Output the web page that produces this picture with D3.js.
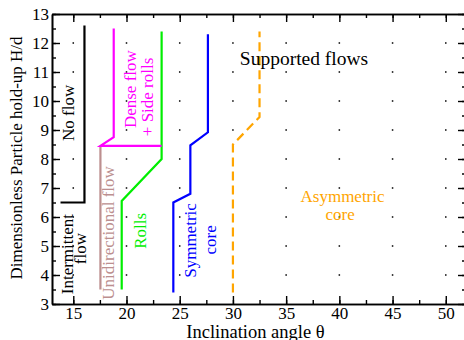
<!DOCTYPE html>
<html><head><meta charset="utf-8">
<script src="https://cdn.jsdelivr.net/npm/d3@7"></script>
<style>
html,body{margin:0;padding:0;background:#fff;overflow:hidden;}
text{font-family:"Liberation Serif","Times New Roman",serif;}
</style></head>
<body><svg id="c" width="464" height="340"></svg>
<script>
// Regime boundary lines: [inclination angle, H/d]
const noFlowLine = [[13.8,6.5],[16.05,6.5],[16.05,12.6]];
const denseLine = [[23.3,8.45],[17.55,8.45],[18.8,8.75],[18.8,12.5]];
const unidirLine = [[17.55,3.5],[17.55,8.45]];
const rollsLine = [[19.55,3.5],[19.55,6.55],[23.3,8.0],[23.3,12.4]];
const symLine = [[24.4,3.4],[24.4,6.5],[26.0,6.8],[26.0,8.47],[27.65,8.92],[27.65,12.3]];
const asymLine = [[30.0,3.4],[30.0,8.5],[32.5,9.45],[32.5,12.4]];

const xTicks = [15,20,25,30,35,40,45,50];
const yTicks = [3,4,5,6,7,8,9,10,11,12,13];
const gridX = [15,20,25,30,35,40,45,50];
const gridY = [4,5,6,7,8,9,10,11,12];

// Annotations: [text, angle, H/d]
const rotLabels = [
  ["No flow",14.5,9.59,"#000"],
  ["Dense flow",20.33,10.41,"#ff00ff"],
  ["+ Side rolls",21.93,10.14,"#ff00ff"],
  ["Intermittent",14.41,4.72,"#000"],
  ["flow",15.63,4.91,"#000"],
  ["Unidirectional flow",18.26,5.45,"#bc8f8f"],
  ["Rolls",21.27,5.52,"#00ee00"],
  ["Symmetric",25.97,5.19,"#0000ff"],
  ["core",27.85,5.21,"#0000ff"]
];
const flatLabels = [
  ["Supported flows",36.68,11.24,"#000",19.5],
  ["Asymmetric",40.3,6.53,"#ffa500",17],
  ["core",40.07,5.90,"#ffa500",17]
];

const svg = d3.select("#c");
const L=52,T=14,R=466,B=304;
const x = d3.scaleLinear().domain([13,51.9]).range([L,R]);
const y = d3.scaleLinear().domain([3,13]).range([B,T]);

// grid dots
const g = svg.append("g");
gridX.forEach(a=>gridY.forEach(b=>{
  g.append("rect").attr("x",x(a)-0.75).attr("y",y(b)-0.75).attr("width",1.5).attr("height",1.5).attr("fill","#000");
}));

const line = d3.line().x(d=>x(d[0])).y(d=>y(d[1]));
function draw(data,color,dash){
  const p = svg.append("path").datum(data).attr("d",line).attr("fill","none")
    .attr("stroke",color).attr("stroke-width",2.2).attr("stroke-linejoin","miter");
  if(dash) p.attr("stroke-dasharray",dash);
}
draw(unidirLine,"#bc8f8f");
draw(noFlowLine,"#000");
draw(rollsLine,"#00ee00");
draw(denseLine,"#ff00ff");
draw(symLine,"#0000ff");
draw(asymLine,"#ffa500","9,5");

// axes
const xMinor = d3.range(12.5,52,2.5).filter(v=>v>13 && v<51.9);
const yMinor = d3.range(3,13.01,0.5);
function axes(){
  const fs = "17px";
  const mk = (axis)=>axis.tickSizeOuter(0);
  svg.append("g").attr("transform",`translate(0,${B})`)
    .call(mk(d3.axisBottom(x).tickValues(xTicks).tickSizeInner(-8).tickPadding(3).tickFormat(d3.format("d"))))
    .call(s=>s.selectAll("text").attr("font-size",fs).attr("fill","#000"));
  svg.append("g").attr("transform",`translate(0,${B})`)
    .call(mk(d3.axisBottom(x).tickValues(xMinor).tickSizeInner(-4).tickFormat("")));
  svg.append("g").attr("transform",`translate(0,${T})`)
    .call(mk(d3.axisTop(x).tickValues(xTicks).tickSizeInner(-8).tickFormat("")));
  svg.append("g").attr("transform",`translate(0,${T})`)
    .call(mk(d3.axisTop(x).tickValues(xMinor).tickSizeInner(-4).tickFormat("")));
  svg.append("g").attr("transform",`translate(${L},0)`)
    .call(mk(d3.axisLeft(y).tickValues(yTicks).tickSizeInner(-8).tickPadding(3).tickFormat(d3.format("d"))))
    .call(s=>s.selectAll("text").attr("font-size",fs).attr("fill","#000"));
  svg.append("g").attr("transform",`translate(${L},0)`)
    .call(mk(d3.axisLeft(y).tickValues(yMinor).tickSizeInner(-4).tickFormat("")));
  svg.append("g").attr("transform",`translate(${R},0)`)
    .call(mk(d3.axisRight(y).tickValues(yTicks).tickSizeInner(-8).tickFormat("")));
  svg.append("g").attr("transform",`translate(${R},0)`)
    .call(mk(d3.axisRight(y).tickValues(yMinor).tickSizeInner(-4).tickFormat("")));
  svg.selectAll(".domain").attr("stroke","#000").attr("stroke-width",1.6);
  svg.selectAll(".tick line").attr("stroke","#000").attr("stroke-width",1.4);
}
axes();

// labels
rotLabels.forEach(([t,a,b,c])=>{
  svg.append("text").attr("transform",`translate(${x(a)},${y(b)}) rotate(-90)`)
    .attr("text-anchor","middle").attr("dy","0.35em").attr("font-size","17px").attr("fill",c).text(t);
});
flatLabels.forEach(([t,a,b,c,fs])=>{
  svg.append("text").attr("x",x(a)).attr("y",y(b)).attr("text-anchor","middle")
    .attr("font-size",fs+"px").attr("fill",c).text(t);
});

// axis titles
svg.append("text").attr("x",255.5).attr("y",337.5).attr("text-anchor","middle")
  .attr("font-size","18.5px").attr("fill","#000").text("Inclination angle θ");
svg.append("text").attr("transform",`translate(16,158) rotate(-90)`).attr("text-anchor","middle")
  .attr("dy","0.35em").attr("font-size","17px").attr("fill","#000").text("Dimensionless Particle hold-up H/d");
</script></body></html>
